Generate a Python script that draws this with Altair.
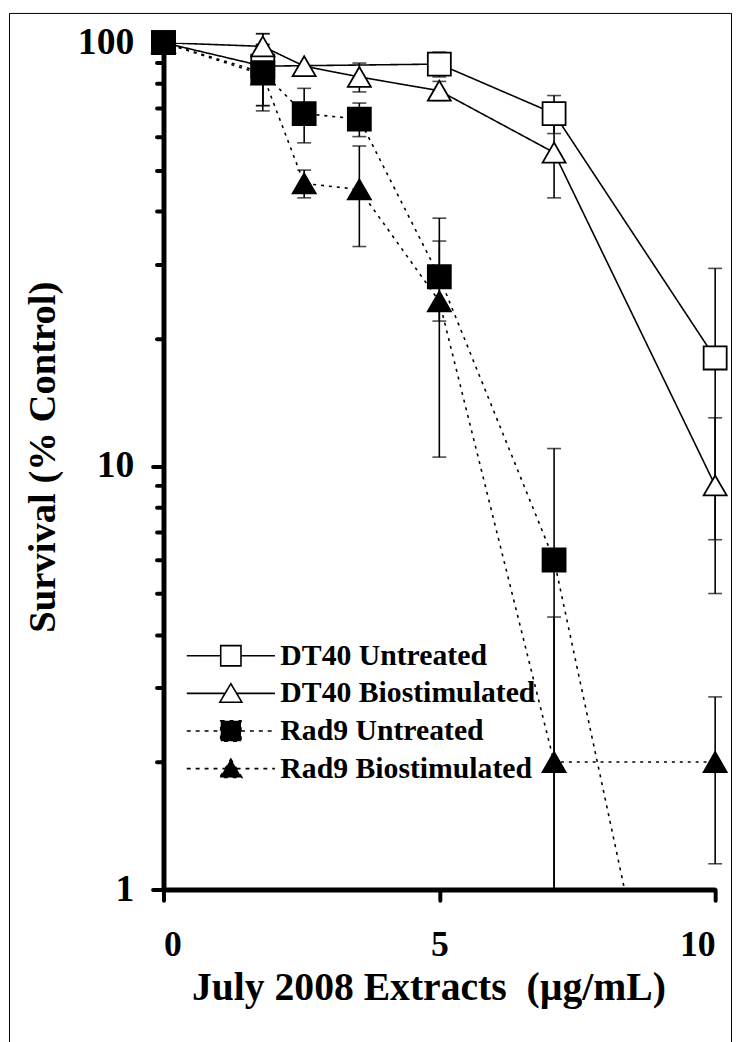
import altair as alt
import pandas as pd

series_names = ["DT40 Untreated", "DT40 Biostimulated", "Rad9 Untreated", "Rad9 Biostimulated"]

# concentrations (ug/mL)
dt40_untreated_x = [0, 1.8, 5, 7.08, 10]
conc_x = [0, 1.8, 2.55, 3.55, 5, 7.08, 10]

# survival (% control) and error (+/-)
dt40_untreated_y = [100, 88, 89, 68, 18]
dt40_untreated_err = [0, 17, 6, 7, 11.3]
dt40_bio_y = [100, 98, 88, 83, 77, 55, 9]
dt40_bio_err = [0, 7, 0, 6.5, 4, 12, 4]
rad9_untreated_y = [100, 85, 68, 66, 28, 6, 0.1]
rad9_untreated_err = [0, 14, 10, 6, 6, 5, 0]
rad9_bio_y = [100, 84, 46.5, 45, 24.5, 2, 2]
rad9_bio_err = [0, 15, 3.5, 12, 14, 2.4, 0.85]

series_data = [
    (series_names[0], dt40_untreated_x, dt40_untreated_y, dt40_untreated_err),
    (series_names[1], conc_x, dt40_bio_y, dt40_bio_err),
    (series_names[2], conc_x, rad9_untreated_y, rad9_untreated_err),
    (series_names[3], conc_x, rad9_bio_y, rad9_bio_err),
]

rows = []
for s, xs, ys, es in series_data:
    for xv, yv, ev in zip(xs, ys, es):
        rows.append({"series": s, "x": xv, "y": yv, "err": ev})
df = pd.DataFrame(rows)

err_df = df[df["err"] > 0].copy()
err_df["hi"] = err_df["y"] + err_df["err"]
err_df["lo"] = err_df["y"] - err_df["err"]
err_df["stem_lo"] = err_df["lo"].clip(lower=1)

caps_rows = []
for _, r in err_df.iterrows():
    caps_rows.append({"x": r["x"], "cap": r["hi"]})
    if r["lo"] >= 1:
        caps_rows.append({"x": r["x"], "cap": r["lo"]})
caps_df = pd.DataFrame(caps_rows)

pts_df = df[df["y"] >= 1]
legend_df = pd.DataFrame({"leg": series_names})

major_ticks = [1, 10, 100]
minor_ticks = [2, 3, 4, 5, 6, 7, 8, 9, 20, 30, 40, 50, 60, 70, 80, 90]
x_ticks = [0, 5, 10]

dash_range = [[1, 0], [1, 0], [3, 5], [3, 5]]
legend_dash_range = [[1, 0], [1, 0], [4, 5], [4, 5]]
fill_range = ["white", "white", "black", "black"]
shape_range = ["square", "triangle-up", "square", "triangle-up"]

sq = 0.23
path_sq = f"M-1,0L-{sq},0M{sq},0L1,0M-{sq},-{sq}L{sq},-{sq}L{sq},{sq}L-{sq},{sq}Z"
path_tri = "M-1,0L-0.131,0M0.131,0L1,0M0,-0.22L0.25,0.2L-0.25,0.2Z"
legend_paths = [path_sq, path_tri, path_sq, path_tri]

x_scale = alt.Scale(domain=[0, 10], nice=False)
y_scale = alt.Scale(type="log", domain=[1, 100], nice=False)

x_axis = alt.Axis(
    values=x_ticks, format="d", tickSize=11, labelPadding=28, labelFontSize=36,
    title="July 2008 Extracts\u00a0 (\u00b5g/mL)",
    titleX=267.5, titleY=111, titleBaseline="alphabetic", titleAlign="center",
    titleFontSize=40,
)
y_major_axis = alt.Axis(
    values=major_ticks, format="d", tickSize=11, labelPadding=19, orient="left",
    titleX=-122, titleY=418, titleAngle=270, titleBaseline="middle", titleAlign="center",
    titleFontSize=39,
)
y_minor_axis = alt.Axis(
    values=minor_ticks, orient="left", labels=False, domain=False, tickSize=7,
)

frame_data = alt.Data(values=[{"k": 0}])
frame_left = alt.Chart(frame_data).mark_rule(color="black", strokeWidth=1).encode(
    x=alt.value(-155.5), y=alt.value(-29.5), y2=alt.value(1010)
)
frame_right = alt.Chart(frame_data).mark_rule(color="black", strokeWidth=1).encode(
    x=alt.value(573.5), y=alt.value(-29.5), y2=alt.value(1010)
)
frame_top = alt.Chart(frame_data).mark_rule(color="black", strokeWidth=1).encode(
    x=alt.value(-155.5), x2=alt.value(573.5), y=alt.value(-29.5)
)

lines = alt.Chart(df).mark_line(color="black", strokeWidth=1.6, clip=True).encode(
    x=alt.X("x:Q", scale=x_scale, axis=x_axis),
    y=alt.Y("y:Q", scale=y_scale, axis=y_major_axis, title="Survival (% Control)"),
    strokeDash=alt.StrokeDash("series:N", scale=alt.Scale(domain=series_names, range=dash_range), legend=None),
    detail="series:N",
)

stems = alt.Chart(err_df).mark_rule(color="black", strokeWidth=1.6).encode(
    x=alt.X("x:Q", scale=x_scale, axis=x_axis),
    y=alt.Y("stem_lo:Q", scale=y_scale, axis=y_minor_axis, title=None),
    y2="hi:Q",
)

caps = alt.Chart(caps_df).mark_tick(orient="horizontal", size=14, thickness=1.6, color="black").encode(
    x=alt.X("x:Q", scale=x_scale, axis=x_axis),
    y=alt.Y("cap:Q", scale=y_scale, axis=None),
)

points = alt.Chart(pts_df).mark_point(filled=True, size=540, stroke="black", strokeWidth=1.8, opacity=1).encode(
    x=alt.X("x:Q", scale=x_scale, axis=x_axis),
    y=alt.Y("y:Q", scale=y_scale, axis=None),
    shape=alt.Shape("series:N", scale=alt.Scale(domain=series_names, range=shape_range), legend=None),
    fill=alt.Fill("series:N", scale=alt.Scale(domain=series_names, range=fill_range), legend=None),
)

leg = alt.Legend(
    title=None, orient="none", legendX=22.5, legendY=600, symbolSize=7921,
    symbolStrokeWidth=1.6, symbolStrokeColor="black", symbolOpacity=1,
    clipHeight=38, rowPadding=0, labelOffset=4.5, symbolOffset=0, padding=0,
    labelFont="Liberation Serif", labelFontWeight="bold", labelFontSize=30,
    labelColor="black", labelLimit=600,
)
legend_layer = alt.Chart(legend_df).mark_point(filled=True, opacity=0, strokeWidth=1.6).encode(
    shape=alt.Shape("leg:N", scale=alt.Scale(domain=series_names, range=legend_paths), legend=leg),
    fill=alt.Fill("leg:N", scale=alt.Scale(domain=series_names, range=fill_range), legend=leg),
    stroke=alt.Stroke("leg:N", scale=alt.Scale(domain=series_names, range=["black"] * 4), legend=leg),
    strokeDash=alt.StrokeDash("leg:N", scale=alt.Scale(domain=series_names, range=legend_dash_range), legend=leg),
)

chart = alt.layer(
    frame_left, frame_right, frame_top, lines, stems, caps, points, legend_layer
).resolve_scale(
    shape="independent", fill="independent", strokeDash="independent", stroke="independent"
).resolve_axis(
    y="independent"
).properties(
    width=557, height=855,
    autosize=alt.AutoSizeParams(type="none"),
    padding={"left": 157, "top": 30, "right": 17, "bottom": 149},
).configure_view(
    strokeWidth=0
).configure_axis(
    domainColor="black", domainWidth=5, tickColor="black", tickWidth=4, tickCap="round",
    labelFont="Liberation Serif", labelFontWeight="bold", labelFontSize=38, labelColor="black",
    titleFont="Liberation Serif", titleFontWeight="bold", titleColor="black", grid=False,
)

chart.save("out.html", embed_options={"renderer": "svg", "actions": False})
